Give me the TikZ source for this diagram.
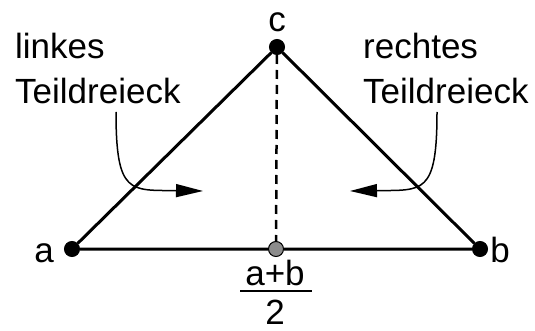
\documentclass[tikz,border=0pt]{standalone}
\usepackage{fontspec}
\setmainfont{Liberation Sans}
\usetikzlibrary{arrows.meta}

\begin{document}
\begin{tikzpicture}[
    x=1pt, y=-1pt,
    vtx/.style={circle, draw, fill=#1, inner sep=0pt, minimum size=15pt, line width=1pt},
    lbl/.style={inner sep=0pt, font=\fontsize{35}{45}\selectfont},
    txt/.style={lbl, align=left, anchor=north west},
    side/.style={line width=3pt},
    arr/.style={-{Triangle[length=27pt,width=13pt]}, line width=1.5pt}
]
    \useasboundingbox (0,0) rectangle (535,331);

    % Eckpunkte
    \node[vtx=black]   (a) at (72,249)  {};
    \node[vtx=black]   (b) at (480,249) {};
    \node[vtx=black]   (c) at (277,47)  {};
    \node[vtx=gray!90] (m) at (276,249) {};

    \draw[side] (a) -- (m) -- (b) -- (c) -- (a);
    \draw[line width=2.5pt, dash pattern=on 9pt off 6pt] (c) -- (m);

    % Beschriftung
    \node[lbl, anchor=base] (la) at (44,262)  {a};
    \node[lbl, anchor=base] (lb) at (500,262) {b};
    \node[lbl, anchor=base] (lc) at (277,32)  {c};
    \node[lbl, anchor=base] (num) at (275,285) {a+b};
    \node[lbl, anchor=base, text depth=0pt] (den) at (275,324) {2};
    \draw[line width=1.5pt] (240,291) -- (312,291);

    \node[txt] (links)  at (15,33)  {linkes\\Teildreieck};
    \node[txt] (rechts) at (363,33) {rechtes\\Teildreieck};

    \coordinate (ls) at (116,112);
    \coordinate (lt) at (203,191);
    \coordinate (rs) at (437,112);
    \coordinate (rt) at (350,191);
    \draw[arr] (ls) .. controls (116,195) and (130,190) .. (lt);
    \draw[arr] (rs) .. controls (437,195) and (423,190) .. (rt);
\end{tikzpicture}
\end{document}
